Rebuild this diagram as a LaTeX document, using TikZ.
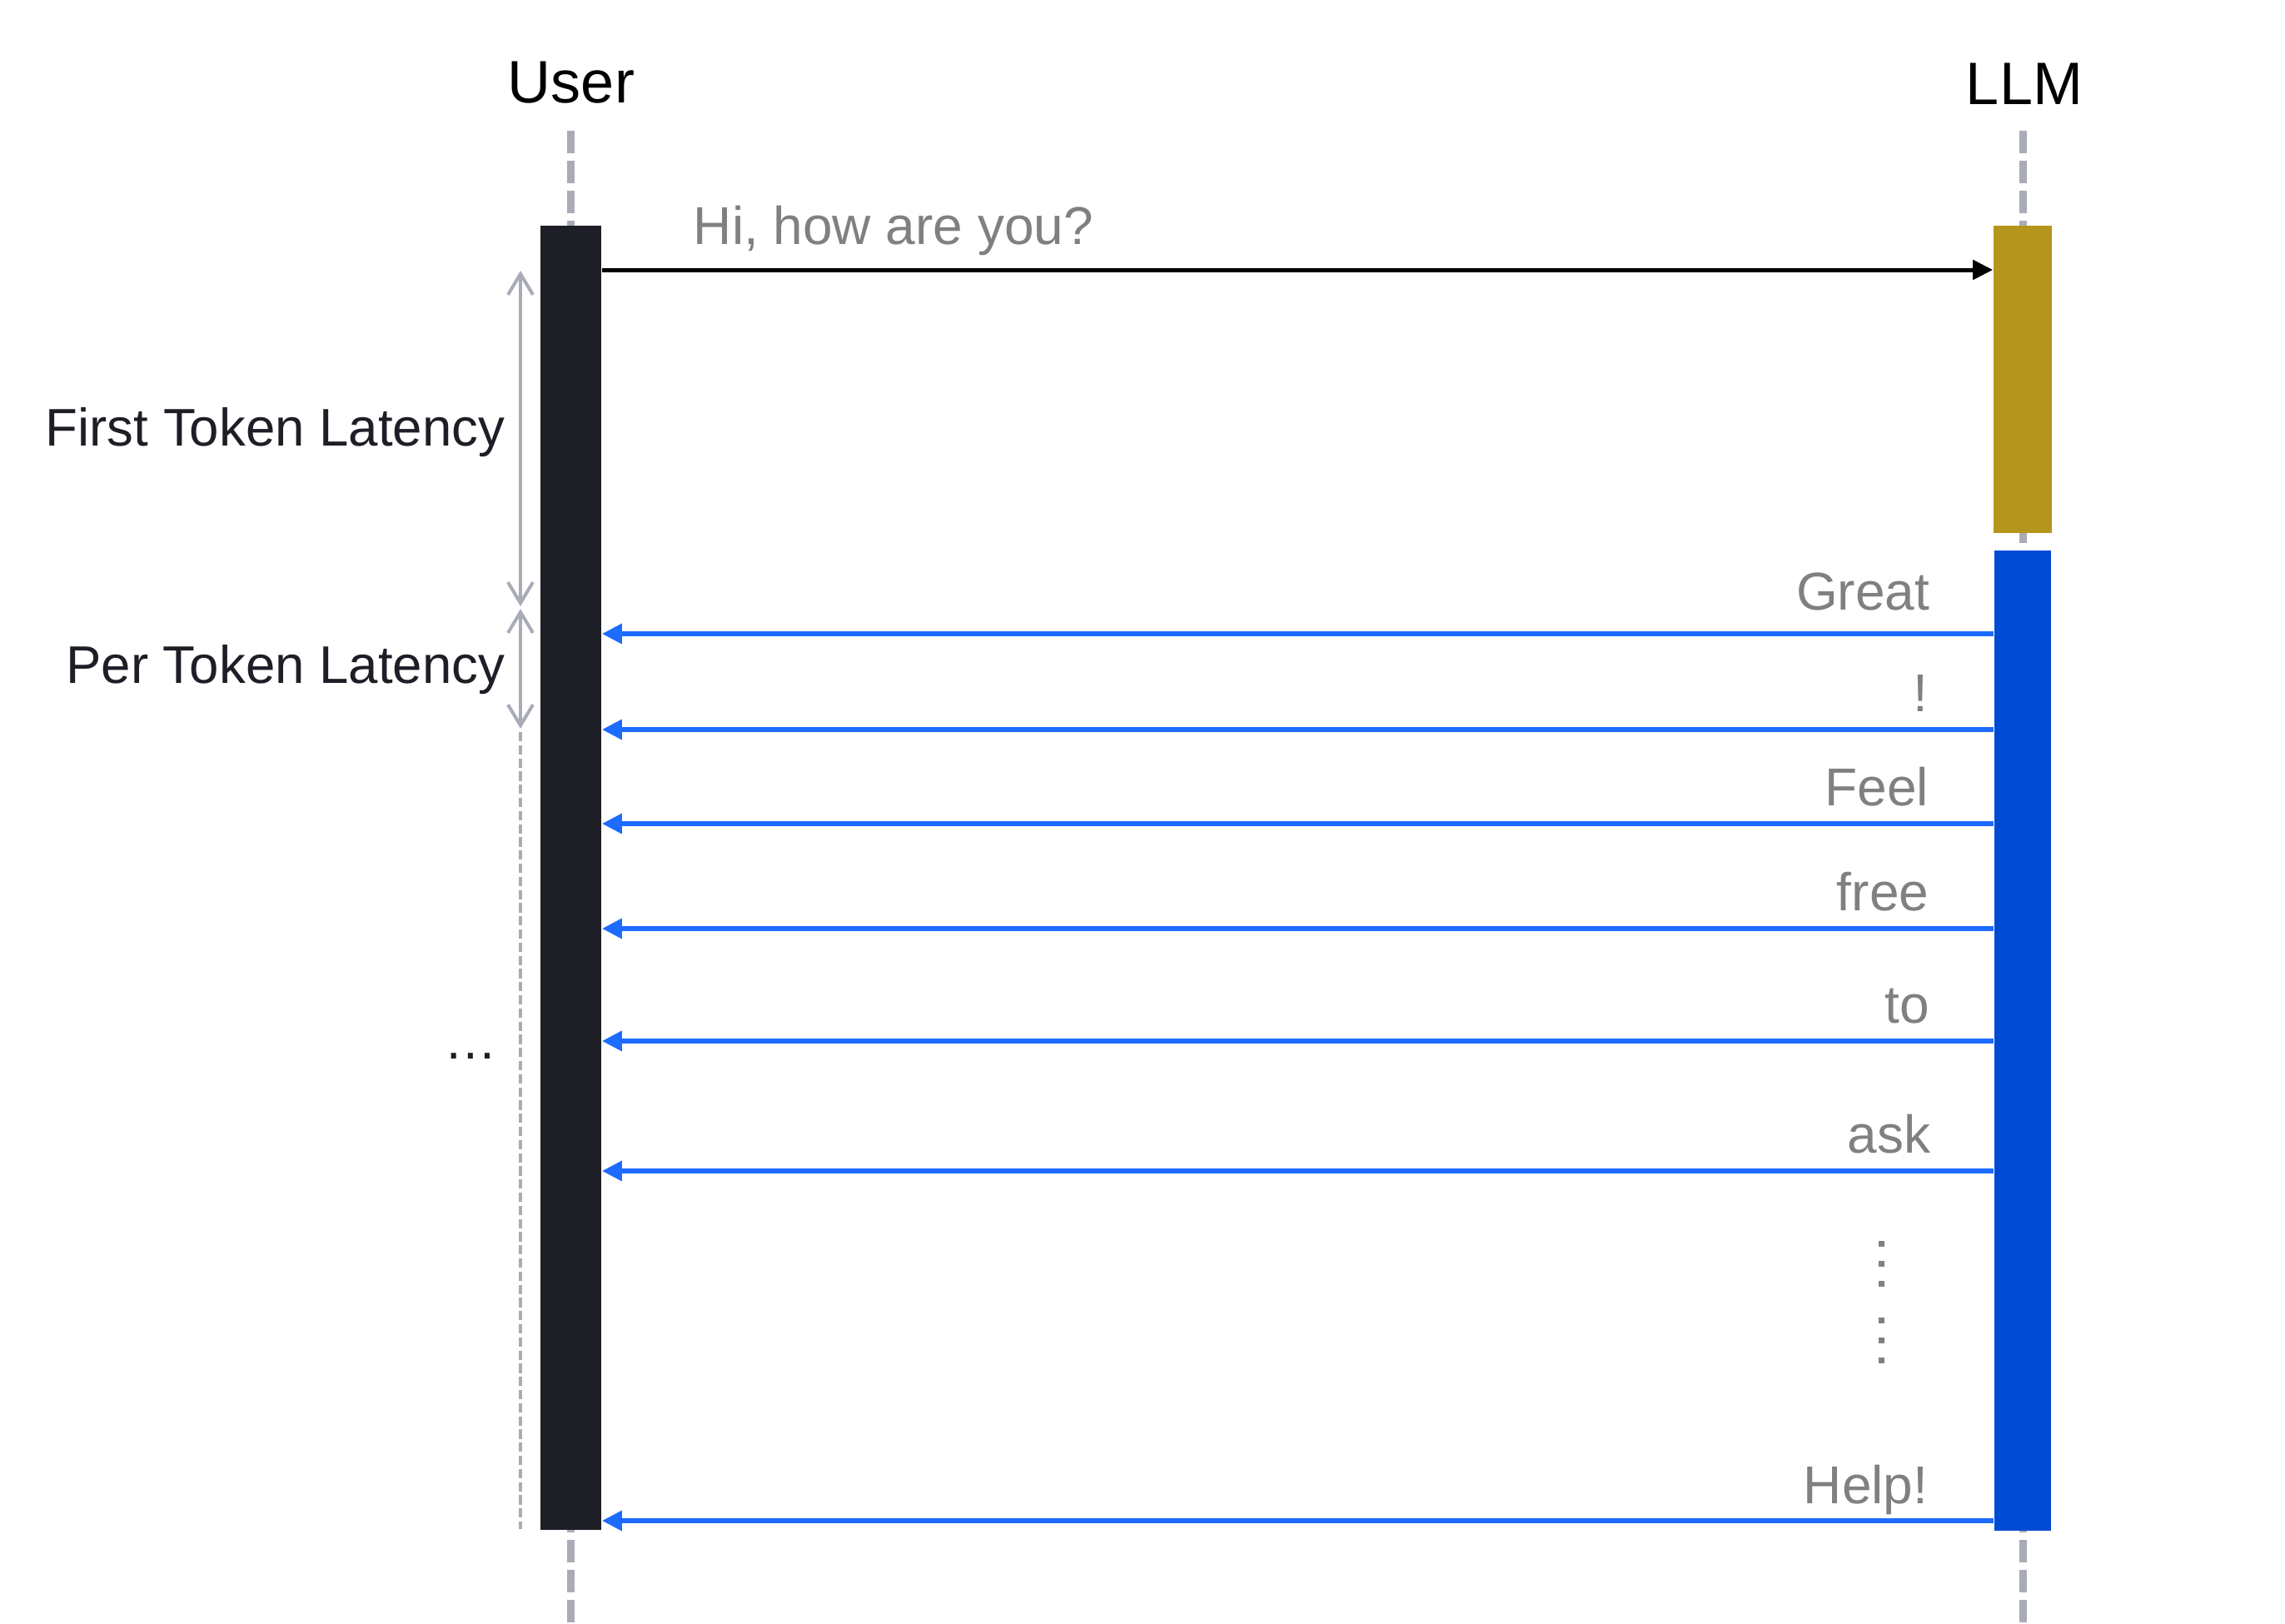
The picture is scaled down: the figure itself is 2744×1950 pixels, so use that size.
\documentclass[tikz,border=0pt]{standalone}
\usepackage{fontspec}
\setmainfont{Liberation Sans}
\usetikzlibrary{arrows.meta}
\definecolor{userdark}{RGB}{30,30,38}
\definecolor{goldbar}{RGB}{181,149,27}
\definecolor{bluebar}{RGB}{0,75,212}
\definecolor{bluearrow}{RGB}{30,107,255}
\definecolor{lifegray}{RGB}{169,172,182}
\definecolor{textgray}{RGB}{128,128,128}
\newcommand\pxu{0.25pt}
\tikzset{
  bigtext/.style={inner sep=0pt, text=black, font=\fontsize{18pt}{21pt}\selectfont},
  darklabel/.style={inner sep=0pt, text=userdark, font=\fontsize{15.9pt}{18pt}\selectfont},
  graylabel/.style={inner sep=0pt, text=textgray, font=\fontsize{16pt}{18pt}\selectfont},
  barbox/.style={inner sep=0pt, draw=none, rectangle},
  lifeline/.style={draw=lifegray, line width=2.25pt, dash pattern=on 6.63pt off 2.37pt},
  reqarrow/.style={draw=black, line width=1.25pt, -{Triangle[length=6pt,width=5.75pt]}},
  resparrow/.style={draw=bluearrow, line width=1.5pt, -{Triangle[length=6pt,width=5.75pt]}},
  latarrow/.style={draw=lifegray, line width=1pt, {Straight Barb[length=6.25pt,width=7.5pt]}-{Straight Barb[length=6.25pt,width=7.5pt]}},
  thindash/.style={draw=lifegray, line width=1pt, dash pattern=on 2.8pt off 1.15pt},
  vdot/.style={fill=textgray}
}
\begin{document}
\begin{tikzpicture}[x=0.25pt, y=-0.25pt]
\useasboundingbox (0,0) rectangle (2744,1950);
% lifelines
\coordinate (utop) at (685.5,157);
\coordinate (ubot) at (685.5,1950);
\coordinate (ltop) at (2429.5,157);
\coordinate (lbot) at (2429.5,1950);
\draw[lifeline] (utop) -- (ubot);
\draw[lifeline] (ltop) -- (lbot);
% headers
\node[bigtext, anchor=base] (user) at (686,123) {User};
\node[bigtext, anchor=base] (llm) at (2431,125) {LLM};
% activation bars
\node[barbox, fill=userdark, minimum width=73*\pxu, minimum height=1566*\pxu] (ubar) at (685.5,1054) {};
\node[barbox, fill=goldbar, minimum width=70*\pxu, minimum height=369*\pxu] (gbar) at (2429,455.5) {};
\node[barbox, fill=bluebar, minimum width=68*\pxu, minimum height=1177*\pxu] (bbar) at (2429,1249.5) {};
% request
\coordinate (q0) at (0,324);
\draw[reqarrow] (ubar.east |- q0) -- (gbar.west |- q0);
\node[graylabel, anchor=base west] (hi) at (832,293) {Hi, how are you?};
% responses
\coordinate (r1) at (0,761);
\coordinate (r2) at (0,876);
\coordinate (r3) at (0,989);
\coordinate (r4) at (0,1115);
\coordinate (r5) at (0,1250);
\coordinate (r6) at (0,1406);
\coordinate (r7) at (0,1826);
\foreach \r in {r1,r2,r3,r4,r5,r6,r7}{
  \draw[resparrow] (bbar.west |- \r) -- (ubar.east |- \r);
}
\node[graylabel, anchor=base east] (t1) at (2318,732) {Great};
\node[graylabel, anchor=base east] (t2) at (2316,854) {!};
\node[graylabel, anchor=base east] (t3) at (2317,967) {Feel};
\node[graylabel, anchor=base east] (t4) at (2317,1093) {free};
\node[graylabel, anchor=base east] (t5) at (2318,1228) {to};
\node[graylabel, anchor=base east] (t6) at (2319,1384) {ask};
\node[graylabel, anchor=base east] (t7) at (2316,1805) {Help!};
% vertical dots
\foreach \y in {1490,1514,1538,1582,1606,1630}{
  \fill[vdot] (2256,\y) rectangle (2263,\y+7);
}
% latency markers
\coordinate (ft1) at (625,325);
\coordinate (ft2) at (625,728);
\coordinate (pt1) at (625,731);
\coordinate (pt2) at (625,875);
\coordinate (pend) at (625,1836);
\draw[latarrow] (ft1) -- (ft2);
\draw[latarrow] (pt1) -- (pt2);
\draw[thindash] (pt2) ++(0,4) -- (pend);
\node[darklabel, anchor=base east] (ftl) at (607,535) {First Token Latency};
\node[darklabel, anchor=base east] (ptl) at (607,820) {Per Token Latency};
\node[darklabel, anchor=base] (ell) at (565,1271) {…};
\end{tikzpicture}
\end{document}
